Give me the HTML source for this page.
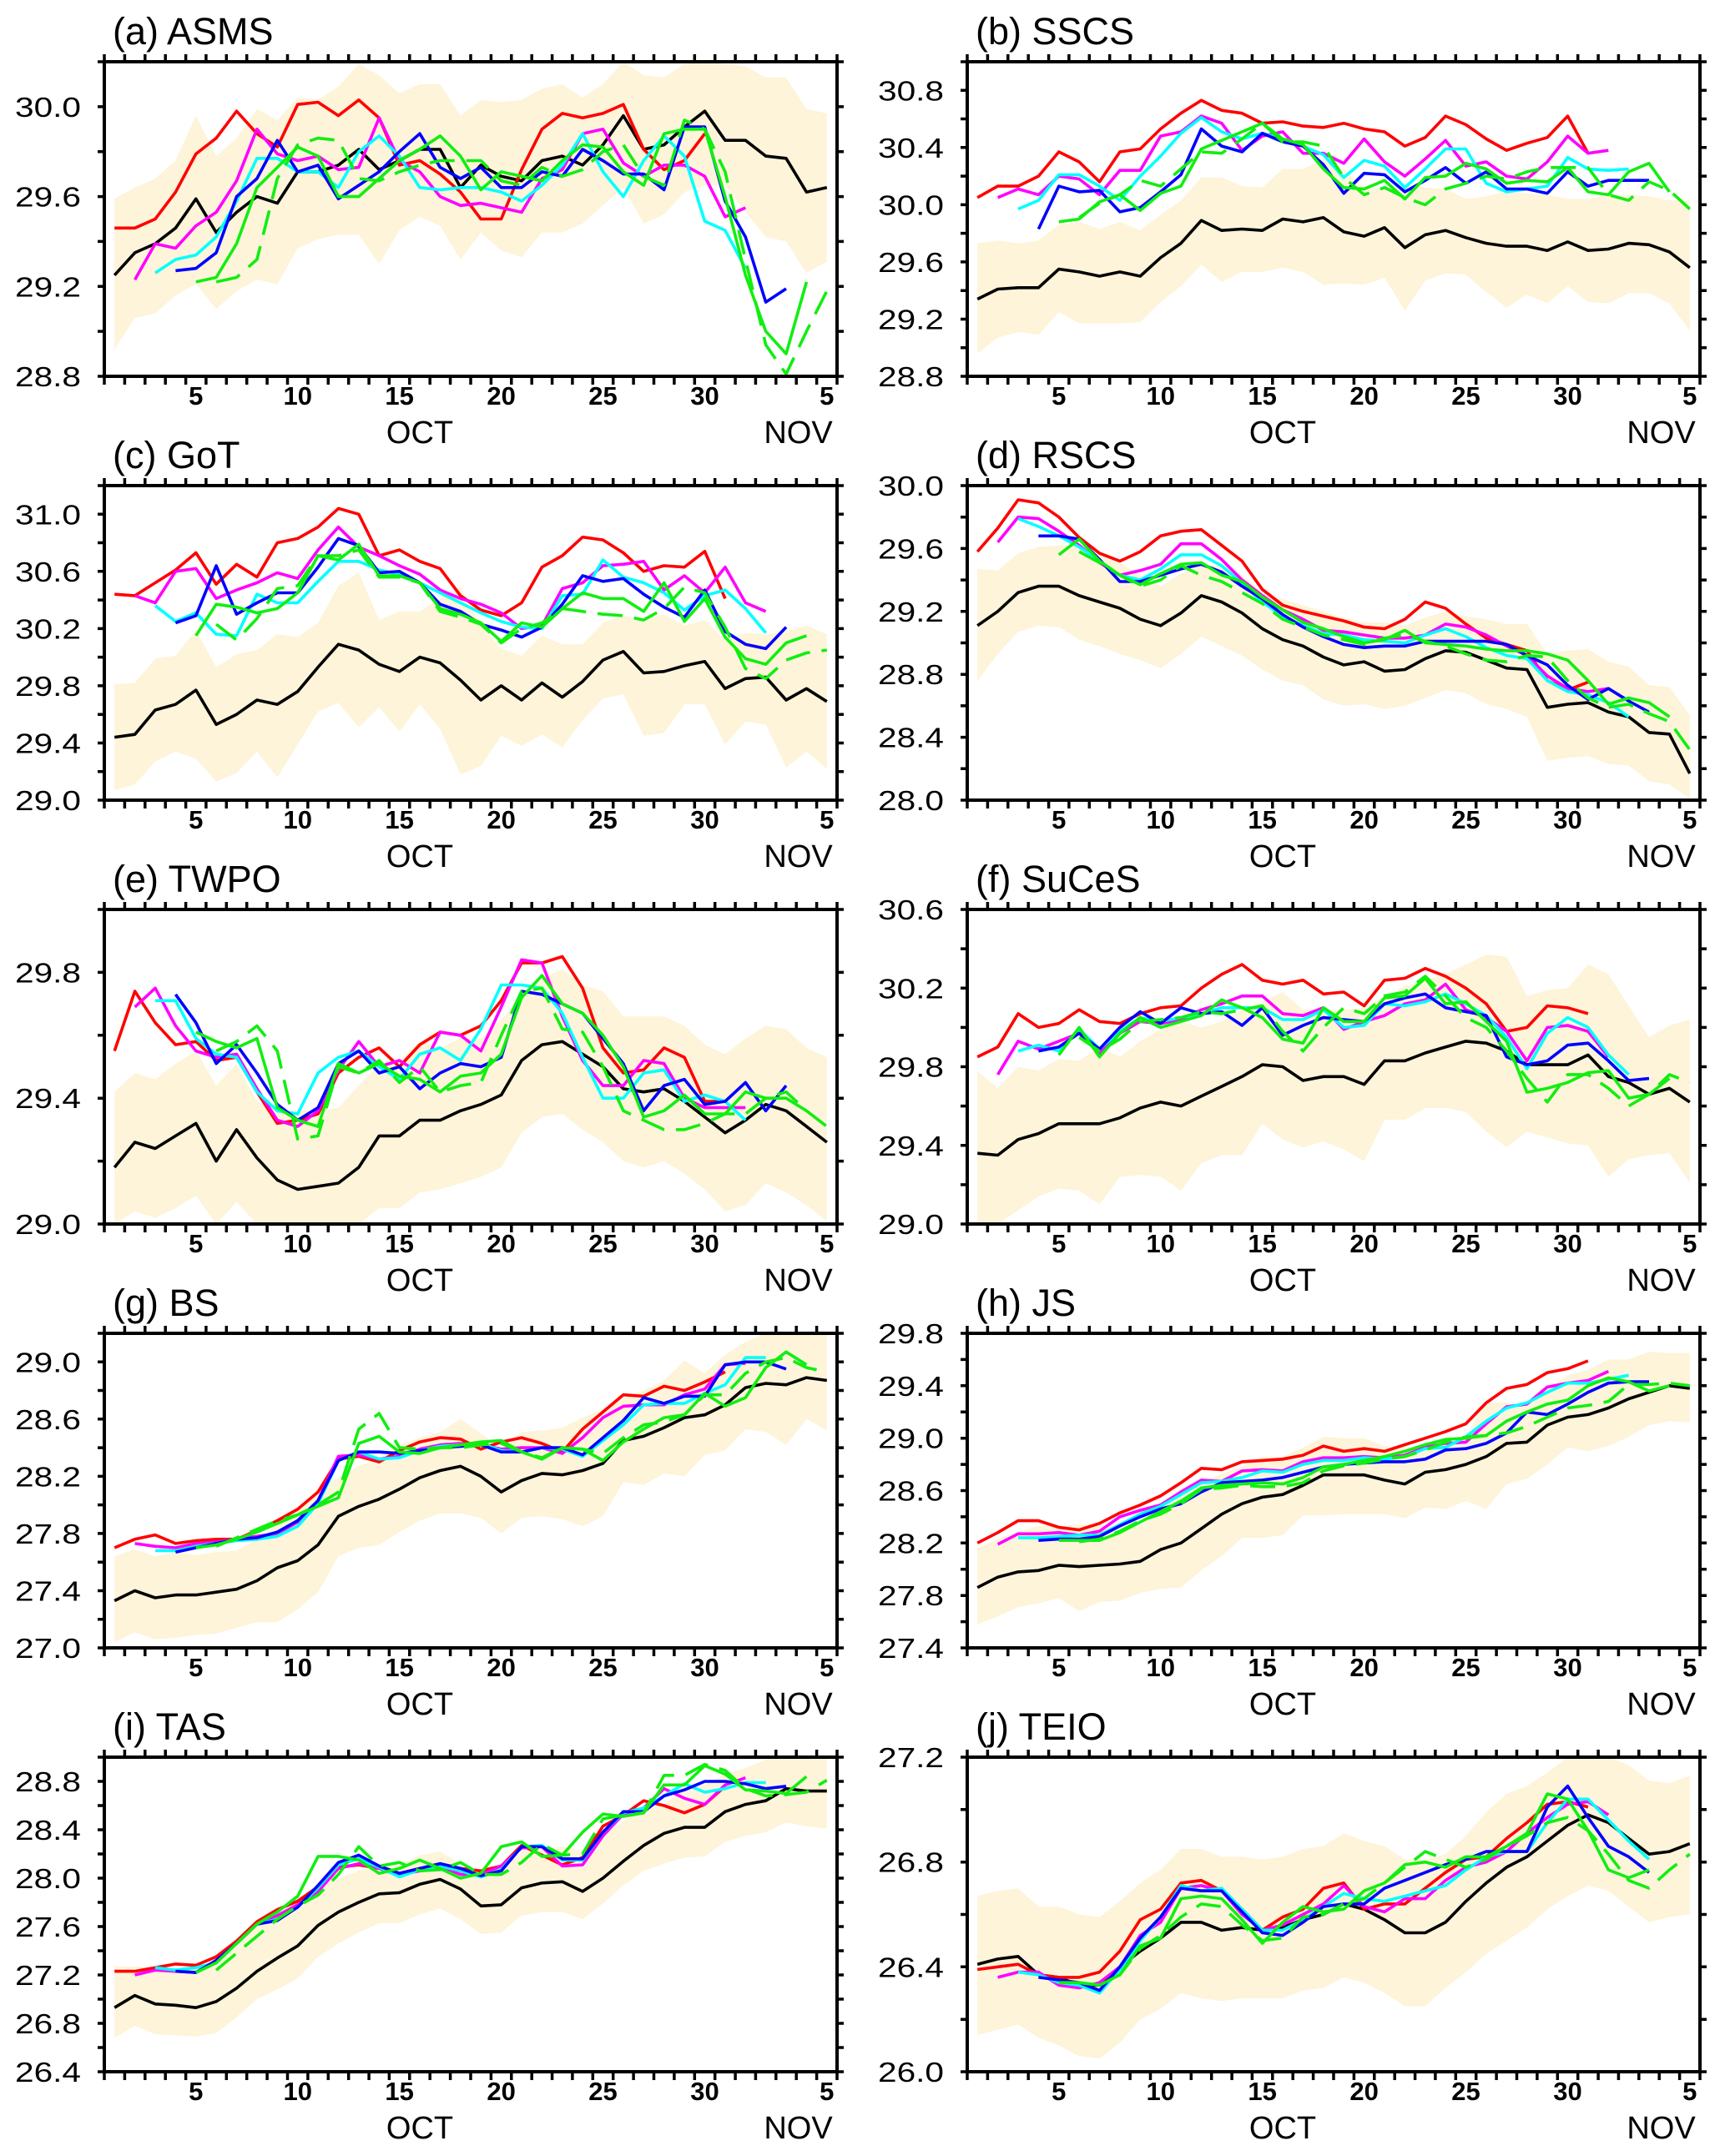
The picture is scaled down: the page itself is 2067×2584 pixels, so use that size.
<!DOCTYPE html>
<html><head><meta charset="utf-8">
<style>
html,body{margin:0;padding:0;background:#fff;}
svg{display:block;font-family:"Liberation Sans",Arial,sans-serif;}
</style></head>
<body>
<svg id="fig" width="2067" height="2584" viewBox="0 0 2067 2584" xmlns="http://www.w3.org/2000/svg"></svg>
<script>
// ---------------- DATA (days: Oct 1 = 1 ... Nov 5 = 36) ----------------
// (a) ASMS
const aBlack=[29.25,29.35,29.39,29.46,29.59,29.44,29.53,29.60,29.57,29.71,29.71,29.74,29.81,29.72,29.76,29.81,29.81,29.64,29.74,29.69,29.67,29.76,29.78,29.74,29.83,29.96,29.81,29.83,29.91,29.98,29.85,29.85,29.78,29.77,29.62,29.64];
const aHi=[29.59,29.64,29.68,29.76,29.96,29.78,29.86,29.99,29.94,30.04,30.03,30.09,30.19,30.14,30.06,30.10,30.10,29.96,30.03,30.02,30.03,30.08,30.10,30.04,30.10,30.20,30.14,30.13,30.19,30.20,30.19,30.18,30.13,30.13,29.99,29.97];
const aLo=[28.92,29.06,29.08,29.16,29.21,29.10,29.18,29.23,29.21,29.37,29.41,29.43,29.43,29.30,29.45,29.51,29.47,29.32,29.44,29.36,29.33,29.44,29.44,29.48,29.56,29.64,29.48,29.52,29.62,29.65,29.65,29.53,29.42,29.40,29.26,29.31];
const aRed=[29.46,29.46,29.50,29.62,29.79,29.86,29.98,29.88,29.82,30.01,30.02,29.96,30.03,29.95,29.74,29.76,29.70,29.62,29.50,29.50,29.72,29.90,29.97,29.95,29.97,30.01,29.81,29.72,29.76,29.88];
const aMag=[29.23,29.39,29.37,29.47,29.53,29.67,29.90,29.79,29.76,29.78,29.72,29.73,29.95,29.76,29.71,29.60,29.56,29.57,29.55,29.53,29.68,29.72,29.88,29.90,29.75,29.69,29.74,29.74,29.69,29.51,29.55];
const aCyan=[29.26,29.32,29.34,29.42,29.58,29.77,29.77,29.71,29.71,29.64,29.80,29.87,29.78,29.64,29.63,29.64,29.64,29.62,29.58,29.65,29.74,29.88,29.71,29.60,29.76,29.87,29.78,29.49,29.45,29.28];
const aBlue=[29.27,29.28,29.35,29.60,29.68,29.85,29.71,29.74,29.59,29.65,29.71,29.80,29.88,29.73,29.68,29.73,29.64,29.64,29.71,29.69,29.81,29.76,29.70,29.70,29.63,29.91,29.91,29.58,29.42,29.13,29.19];
const aGreen=[29.22,29.24,29.39,29.64,29.73,29.82,29.78,29.60,29.60,29.68,29.76,29.81,29.87,29.78,29.63,29.71,29.69,29.67,29.76,29.83,29.82,29.71,29.65,29.88,29.90,29.90,29.60,29.25,29.00,28.90,29.22];
const aDash=[29.22,29.24,29.32,29.68,29.83,29.86,29.85,29.68,29.67,29.71,29.74,29.76,29.76,29.76,29.67,29.65,29.73,29.69,29.72,29.80,29.83,29.69,29.65,29.94,29.90,29.71,29.32,28.94,28.81,29.00,29.18];
// (b) SSCS
const bBlack=[29.34,29.41,29.42,29.42,29.55,29.53,29.50,29.53,29.50,29.63,29.73,29.89,29.82,29.83,29.82,29.90,29.88,29.91,29.81,29.78,29.84,29.70,29.79,29.82,29.77,29.73,29.71,29.71,29.68,29.74,29.68,29.69,29.73,29.72,29.67,29.56];
const bHi=[29.73,29.75,29.73,29.75,29.86,29.88,29.83,29.88,29.82,29.93,30.03,30.19,30.19,30.13,30.12,30.25,30.25,30.32,30.25,30.12,30.11,30.13,30.12,30.11,30.04,30.06,30.09,30.08,30.07,30.04,30.04,30.07,30.07,30.06,30.03,30.03];
const bLo=[28.96,29.07,29.11,29.09,29.25,29.17,29.17,29.17,29.18,29.32,29.43,29.58,29.46,29.53,29.53,29.56,29.53,29.44,29.45,29.44,29.49,29.26,29.47,29.52,29.51,29.39,29.28,29.37,29.31,29.43,29.32,29.31,29.38,29.38,29.31,29.12];
const bRed=[30.05,30.13,30.13,30.20,30.37,30.30,30.16,30.37,30.39,30.53,30.64,30.73,30.66,30.64,30.57,30.58,30.55,30.54,30.57,30.53,30.51,30.41,30.47,30.62,30.56,30.46,30.38,30.43,30.47,30.62,30.36];
const bMag=[30.05,30.11,30.07,30.20,30.18,30.07,30.24,30.24,30.48,30.51,30.62,30.57,30.38,30.48,30.51,30.36,30.36,30.29,30.46,30.30,30.20,30.32,30.45,30.27,30.30,30.20,30.18,30.30,30.48,30.36,30.38];
const bCyan=[29.97,30.03,30.21,30.21,30.13,30.03,30.20,30.34,30.50,30.61,30.51,30.46,30.50,30.46,30.41,30.35,30.19,30.31,30.27,30.12,30.25,30.39,30.39,30.15,30.09,30.11,30.13,30.33,30.25,30.24,30.25];
const bBlue=[29.83,30.13,30.09,30.10,29.95,29.98,30.09,30.21,30.53,30.41,30.37,30.50,30.44,30.41,30.28,30.08,30.22,30.21,30.09,30.17,30.26,30.15,30.23,30.11,30.11,30.08,30.23,30.13,30.17,30.17,30.17];
const bGreen=[29.88,29.90,30.02,30.07,29.96,30.08,30.13,30.39,30.45,30.51,30.57,30.46,30.42,30.25,30.12,30.11,30.17,30.04,30.19,30.20,30.29,30.25,30.15,30.17,30.16,30.26,30.09,30.07,30.23,30.29,30.09];
const bDash=[29.91,30.01,30.07,30.17,30.13,30.25,30.37,30.36,30.46,30.57,30.44,30.44,30.41,30.19,30.07,30.12,30.05,30.00,30.11,30.15,30.20,30.18,30.23,30.26,30.26,30.26,30.07,30.03,30.16,30.10,29.97];
// (c) GoT
const cBlack=[29.44,29.46,29.63,29.67,29.77,29.53,29.60,29.70,29.67,29.76,29.93,30.09,30.05,29.95,29.90,30.00,29.96,29.84,29.70,29.80,29.70,29.82,29.72,29.83,29.98,30.04,29.89,29.90,29.94,29.97,29.78,29.85,29.86,29.70,29.78,29.69];
const cHi=[29.81,29.82,29.99,30.01,30.19,29.93,30.02,30.05,30.16,30.14,30.24,30.50,30.59,30.26,30.32,30.32,30.41,30.49,30.22,30.06,30.01,30.15,30.09,30.09,30.24,30.29,30.27,30.30,30.22,30.26,30.12,30.17,30.16,30.18,30.22,30.16];
const cLo=[29.07,29.11,29.27,29.34,29.29,29.13,29.19,29.34,29.16,29.39,29.62,29.68,29.51,29.65,29.48,29.67,29.50,29.18,29.24,29.45,29.38,29.46,29.37,29.56,29.71,29.74,29.45,29.47,29.67,29.67,29.39,29.55,29.53,29.23,29.34,29.22];
const cRed=[30.44,30.43,30.52,30.61,30.73,30.51,30.65,30.56,30.80,30.83,30.91,31.04,31.00,30.71,30.75,30.67,30.62,30.43,30.33,30.29,30.38,30.63,30.71,30.84,30.82,30.73,30.60,30.64,30.63,30.74,30.41];
const cMag=[30.43,30.38,30.60,30.62,30.41,30.47,30.52,30.59,30.55,30.75,30.91,30.77,30.71,30.64,30.58,30.47,30.41,30.37,30.31,30.20,30.22,30.48,30.52,30.64,30.65,30.67,30.47,30.57,30.45,30.63,30.38,30.32];
const cCyan=[30.36,30.25,30.31,30.16,30.15,30.44,30.38,30.38,30.53,30.67,30.67,30.61,30.58,30.52,30.45,30.38,30.31,30.25,30.21,30.20,30.43,30.44,30.68,30.56,30.52,30.45,30.33,30.43,30.47,30.34,30.17];
const cBlue=[30.24,30.29,30.64,30.30,30.38,30.45,30.45,30.63,30.83,30.78,30.59,30.60,30.52,30.37,30.32,30.23,30.19,30.14,30.21,30.37,30.57,30.53,30.55,30.44,30.35,30.28,30.47,30.18,30.09,30.06,30.21];
const cGreen=[30.15,30.37,30.35,30.31,30.34,30.45,30.71,30.68,30.79,30.57,30.57,30.52,30.34,30.30,30.24,30.11,30.24,30.21,30.34,30.45,30.41,30.41,30.32,30.52,30.25,30.41,30.14,29.99,29.95,30.10,30.15];
const cDash=[30.23,30.12,30.27,30.48,30.50,30.71,30.71,30.75,30.56,30.56,30.52,30.32,30.28,30.23,30.10,30.20,30.24,30.34,30.32,30.30,30.29,30.26,30.34,30.49,30.45,30.21,29.92,29.85,29.98,30.03,30.05];
// (d) RSCS
const dBlack=[29.11,29.20,29.32,29.36,29.36,29.30,29.26,29.22,29.15,29.11,29.19,29.30,29.26,29.19,29.09,29.02,28.98,28.91,28.86,28.88,28.82,28.83,28.90,28.95,28.94,28.89,28.84,28.83,28.59,28.61,28.62,28.56,28.53,28.43,28.42,28.17];
const dHi=[29.47,29.46,29.57,29.61,29.62,29.62,29.58,29.51,29.43,29.36,29.44,29.49,29.50,29.43,29.32,29.28,29.24,29.20,29.16,29.13,29.13,29.11,29.16,29.20,29.17,29.15,29.12,29.12,28.93,28.95,28.96,28.88,28.85,28.73,28.72,28.54];
const dLo=[28.76,28.93,29.07,29.11,29.10,29.02,28.98,28.93,28.89,28.84,28.93,29.04,28.98,28.92,28.83,28.76,28.73,28.64,28.60,28.61,28.58,28.60,28.65,28.70,28.68,28.61,28.58,28.53,28.25,28.27,28.28,28.23,28.22,28.12,28.10,28.01];
const dRed=[29.58,29.73,29.91,29.89,29.80,29.67,29.57,29.52,29.58,29.68,29.71,29.72,29.62,29.52,29.34,29.24,29.20,29.17,29.14,29.10,29.09,29.15,29.26,29.22,29.12,29.03,28.99,28.95,28.76,28.70,28.75];
const dMag=[29.64,29.80,29.79,29.71,29.62,29.51,29.43,29.46,29.50,29.63,29.63,29.53,29.40,29.30,29.21,29.15,29.08,29.07,29.05,29.03,29.03,29.05,29.12,29.10,29.05,28.98,28.92,28.79,28.71,28.69,28.71];
const dCyan=[29.79,29.74,29.68,29.61,29.52,29.43,29.40,29.47,29.56,29.56,29.49,29.38,29.26,29.17,29.11,29.06,29.05,29.02,29.01,29.00,29.05,29.09,29.04,28.97,28.92,28.90,28.76,28.69,28.67,28.62,28.53];
const dBlue=[29.68,29.68,29.66,29.53,29.39,29.39,29.43,29.47,29.50,29.45,29.36,29.28,29.18,29.10,29.04,28.99,28.97,28.98,28.98,29.01,29.01,29.01,29.01,28.99,28.92,28.86,28.73,28.64,28.71,28.63,28.56];
const dGreen=[29.56,29.66,29.52,29.43,29.37,29.44,29.50,29.51,29.43,29.39,29.29,29.21,29.13,29.09,29.04,29.00,29.02,29.08,29.00,28.99,28.98,28.96,28.95,28.95,28.93,28.89,28.76,28.61,28.65,28.62,28.53];
const dDash=[29.58,29.51,29.43,29.36,29.40,29.49,29.43,29.39,29.32,29.25,29.15,29.10,29.05,29.02,28.99,29.03,29.05,29.01,28.98,28.93,28.89,28.88,28.92,28.91,28.76,28.65,28.59,28.61,28.55,28.50,28.32];
// (e) TWPO
const eBlack=[29.18,29.26,29.24,29.28,29.32,29.20,29.30,29.21,29.14,29.11,29.12,29.13,29.18,29.28,29.28,29.33,29.33,29.36,29.38,29.41,29.52,29.57,29.58,29.54,29.50,29.43,29.42,29.43,29.39,29.34,29.29,29.33,29.38,29.36,29.31,29.26];
const eHi=[29.42,29.48,29.46,29.51,29.55,29.44,29.51,29.39,29.36,29.36,29.36,29.37,29.44,29.51,29.52,29.58,29.56,29.59,29.59,29.65,29.72,29.78,29.81,29.76,29.74,29.66,29.66,29.66,29.63,29.57,29.54,29.59,29.63,29.62,29.56,29.53];
const eLo=[29.00,29.04,29.02,29.05,29.09,29.00,29.07,29.00,29.00,29.00,29.00,29.00,29.00,29.05,29.05,29.10,29.11,29.13,29.15,29.18,29.29,29.34,29.35,29.30,29.26,29.20,29.18,29.20,29.16,29.11,29.04,29.06,29.13,29.10,29.06,29.01];
const eRed=[29.55,29.74,29.64,29.57,29.58,29.52,29.53,29.42,29.32,29.33,29.35,29.48,29.53,29.56,29.50,29.57,29.61,29.60,29.63,29.71,29.83,29.83,29.85,29.75,29.56,29.48,29.49,29.56,29.53,29.39,29.39];
const eMag=[29.69,29.75,29.63,29.55,29.53,29.54,29.43,29.33,29.31,29.36,29.49,29.58,29.50,29.52,29.48,29.61,29.60,29.55,29.69,29.84,29.83,29.66,29.52,29.44,29.44,29.52,29.51,29.40,29.37,29.37,29.37];
const eCyan=[29.71,29.71,29.59,29.54,29.53,29.42,29.36,29.35,29.48,29.53,29.55,29.50,29.46,29.54,29.56,29.52,29.62,29.76,29.76,29.75,29.67,29.53,29.40,29.40,29.48,29.49,29.39,29.41,29.39,29.33];
const eBlue=[29.73,29.64,29.51,29.57,29.48,29.38,29.33,29.37,29.51,29.55,29.48,29.50,29.43,29.48,29.51,29.50,29.53,29.74,29.73,29.70,29.67,29.59,29.51,29.36,29.44,29.46,29.38,29.39,29.45,29.36,29.44];
const eGreen=[29.61,29.58,29.56,29.59,29.37,29.33,29.31,29.51,29.48,29.51,29.47,29.46,29.42,29.47,29.48,29.54,29.72,29.79,29.70,29.67,29.60,29.50,29.34,29.36,29.41,29.35,29.35,29.42,29.40,29.40,29.36];
const eDash=[29.55,29.58,29.63,29.55,29.27,29.28,29.50,29.48,29.52,29.45,29.50,29.42,29.44,29.45,29.60,29.74,29.75,29.62,29.61,29.50,29.36,29.33,29.30,29.30,29.32,29.35,29.35,29.40,29.42,29.36,29.31];
// (f) SuCeS
const fBlack=[29.36,29.35,29.43,29.46,29.51,29.51,29.51,29.54,29.59,29.62,29.60,29.65,29.70,29.75,29.81,29.80,29.73,29.75,29.75,29.71,29.83,29.83,29.87,29.90,29.93,29.92,29.88,29.81,29.81,29.81,29.86,29.75,29.72,29.66,29.69,29.62];
const fHi=[29.78,29.69,29.80,29.78,29.84,29.83,29.90,29.85,29.93,29.99,30.03,30.00,30.03,30.09,30.13,30.18,30.09,30.09,30.09,30.10,30.16,30.21,30.24,30.27,30.32,30.37,30.36,30.16,30.19,30.20,30.32,30.27,30.11,29.95,30.01,30.04];
const fLo=[29.00,29.00,29.07,29.14,29.18,29.17,29.10,29.24,29.25,29.24,29.17,29.31,29.35,29.35,29.51,29.43,29.39,29.42,29.38,29.32,29.53,29.53,29.59,29.59,29.57,29.47,29.39,29.47,29.44,29.41,29.40,29.24,29.33,29.35,29.36,29.21];
const fRed=[29.85,29.90,30.07,30.00,30.02,30.09,30.03,30.02,30.07,30.10,30.11,30.20,30.27,30.32,30.24,30.22,30.24,30.17,30.18,30.11,30.24,30.25,30.30,30.26,30.20,30.12,29.98,30.00,30.11,30.10,30.07];
const fMag=[29.76,29.93,29.89,29.93,29.97,29.87,29.97,30.03,30.02,30.04,30.09,30.12,30.16,30.16,30.07,30.06,30.10,29.99,30.03,30.06,30.12,30.14,30.22,30.09,30.05,29.98,29.83,30.00,30.01,29.98,29.85];
const fCyan=[29.88,29.91,29.88,29.99,29.89,29.98,30.05,30.03,30.05,30.07,30.10,30.10,30.10,30.04,30.04,30.09,30.00,30.01,30.12,30.11,30.13,30.17,30.12,30.06,29.95,29.79,29.97,30.05,30.00,29.86,29.76];
const fBlue=[29.88,29.90,29.97,29.89,30.00,30.08,30.02,30.10,30.07,30.08,30.01,30.10,29.96,30.01,30.05,30.04,30.03,30.12,30.15,30.17,30.10,30.08,30.06,29.85,29.81,29.83,29.91,29.92,29.83,29.73,29.74];
const fGreen=[29.86,30.00,29.85,29.97,30.05,30.00,30.03,30.06,30.14,30.10,30.05,29.94,29.92,30.10,30.03,30.03,30.15,30.16,30.25,30.12,30.13,30.03,29.93,29.67,29.69,29.72,29.77,29.78,29.64,29.66,29.74];
const fDash=[29.95,29.88,29.94,30.03,30.04,30.05,30.08,30.07,30.09,30.11,29.98,29.88,30.00,30.10,30.07,30.16,30.18,30.26,30.16,30.05,30.00,29.88,29.74,29.62,29.76,29.76,29.69,29.60,29.66,29.76,29.72];
// (g) BS
const gBlack=[27.33,27.40,27.35,27.37,27.37,27.39,27.41,27.47,27.56,27.61,27.72,27.92,27.99,28.04,28.11,28.19,28.24,28.27,28.20,28.09,28.17,28.22,28.21,28.24,28.29,28.45,28.48,28.54,28.61,28.63,28.70,28.82,28.85,28.84,28.89,28.87];
const gHi=[27.64,27.69,27.64,27.67,27.65,27.67,27.68,27.76,27.86,27.96,28.12,28.19,28.27,28.32,28.42,28.47,28.51,28.60,28.50,28.40,28.51,28.52,28.54,28.61,28.67,28.75,28.80,28.87,29.01,28.92,29.05,29.14,29.20,29.20,29.20,29.20];
const gLo=[27.04,27.11,27.06,27.07,27.09,27.10,27.14,27.18,27.18,27.27,27.39,27.64,27.70,27.72,27.81,27.89,27.94,27.94,27.91,27.80,27.91,27.92,27.90,27.85,27.92,28.16,28.14,28.22,28.20,28.35,28.38,28.53,28.51,28.42,28.60,28.52];
const gRed=[27.70,27.76,27.79,27.73,27.75,27.76,27.76,27.82,27.89,27.97,28.09,28.32,28.34,28.30,28.38,28.44,28.47,28.46,28.39,28.44,28.47,28.43,28.37,28.53,28.65,28.77,28.76,28.83,28.80,28.86,28.93];
const gMag=[27.73,27.71,27.70,27.73,27.74,27.76,27.78,27.80,27.88,28.03,28.34,28.35,28.32,28.34,28.39,28.42,28.43,28.42,28.39,28.40,28.40,28.36,28.47,28.61,28.69,28.70,28.70,28.77,28.81,28.98,28.99];
const gCyan=[27.68,27.68,27.71,27.73,27.75,27.76,27.78,27.85,28.01,28.31,28.37,28.32,28.33,28.38,28.41,28.42,28.43,28.38,28.37,28.40,28.39,28.34,28.45,28.56,28.70,28.71,28.71,28.78,28.84,29.03,29.03];
const gBlue=[27.67,27.70,27.73,27.76,27.77,27.81,27.89,28.03,28.31,28.37,28.37,28.36,28.38,28.40,28.41,28.42,28.37,28.37,28.40,28.40,28.35,28.47,28.59,28.75,28.71,28.76,28.76,28.98,29.00,29.00,28.95];
const gGreen=[27.70,27.72,27.76,27.81,27.87,27.93,27.99,28.05,28.43,28.48,28.37,28.36,28.40,28.42,28.44,28.45,28.37,28.32,28.40,28.39,28.31,28.44,28.53,28.61,28.63,28.78,28.69,28.75,28.96,29.07,28.98];
const gDash=[27.71,27.77,27.83,27.89,27.93,28.00,28.09,28.53,28.64,28.40,28.39,28.40,28.40,28.42,28.43,28.37,28.33,28.40,28.39,28.36,28.47,28.56,28.58,28.63,28.77,28.77,28.92,29.00,29.03,28.96,28.93];
// (h) JS
const hBlack=[27.86,27.94,27.98,27.99,28.03,28.02,28.03,28.04,28.06,28.15,28.20,28.31,28.42,28.50,28.55,28.57,28.64,28.72,28.72,28.72,28.68,28.65,28.74,28.76,28.80,28.86,28.96,28.97,29.10,29.16,29.18,29.23,29.30,29.35,29.40,29.38];
const hHi=[28.16,28.23,28.29,28.33,28.33,28.34,28.34,28.33,28.33,28.46,28.61,28.66,28.73,28.78,28.86,28.86,28.93,29.01,29.00,29.00,28.94,28.93,28.92,28.92,29.02,29.27,29.27,29.25,29.37,29.48,29.52,29.60,29.60,29.66,29.65,29.65];
const hLo=[27.58,27.64,27.71,27.74,27.78,27.68,27.75,27.76,27.82,27.85,27.86,27.99,28.10,28.24,28.24,28.26,28.41,28.41,28.42,28.42,28.42,28.39,28.47,28.46,28.52,28.46,28.65,28.69,28.80,28.93,28.90,28.94,29.01,29.10,29.13,29.12];
const hRed=[28.20,28.28,28.37,28.37,28.32,28.30,28.35,28.43,28.49,28.56,28.66,28.77,28.76,28.82,28.83,28.84,28.87,28.94,28.90,28.92,28.90,28.95,29.00,29.05,29.11,29.27,29.38,29.41,29.50,29.53,29.59];
const hMag=[28.19,28.27,28.27,28.28,28.26,28.29,28.40,28.45,28.49,28.59,28.68,28.67,28.75,28.76,28.75,28.82,28.85,28.85,28.86,28.85,28.87,28.93,28.96,28.97,29.11,29.24,29.26,29.39,29.42,29.44,29.51];
const hCyan=[28.24,28.24,28.25,28.26,28.26,28.34,28.42,28.48,28.57,28.66,28.67,28.70,28.75,28.74,28.80,28.83,28.83,28.85,28.84,28.86,28.92,28.93,29.01,29.13,29.23,29.27,29.35,29.42,29.42,29.45,29.48];
const hBlue=[28.22,28.23,28.23,28.25,28.33,28.40,28.46,28.50,28.59,28.66,28.67,28.68,28.70,28.74,28.78,28.80,28.81,28.82,28.82,28.84,28.91,28.92,28.96,29.04,29.20,29.18,29.26,29.35,29.42,29.43,29.43];
const hGreen=[28.22,28.22,28.22,28.28,28.36,28.44,28.52,28.62,28.64,28.65,28.66,28.65,28.70,28.78,28.80,28.83,28.86,28.90,28.95,28.99,29.00,29.02,29.13,29.20,29.26,29.29,29.40,29.46,29.43,29.36,29.40];
const hDash=[28.21,28.23,28.29,28.37,28.42,28.50,28.61,28.62,28.64,28.63,28.63,28.66,28.75,28.79,28.81,28.84,28.86,28.91,28.97,29.01,29.02,29.04,29.09,29.16,29.23,29.25,29.28,29.41,29.41,29.42,29.40];
// (i) TAS
const iBlack=[26.93,27.03,26.96,26.95,26.93,26.98,27.09,27.23,27.34,27.44,27.61,27.72,27.80,27.87,27.88,27.95,27.99,27.91,27.77,27.78,27.92,27.96,27.97,27.89,28.00,28.14,28.27,28.37,28.42,28.42,28.55,28.61,28.64,28.74,28.72,28.72];
const iHi=[27.27,27.27,27.26,27.24,27.25,27.30,27.43,27.63,27.72,27.83,27.94,28.00,28.06,28.10,28.11,28.19,28.22,28.12,28.04,28.07,28.22,28.24,28.26,28.23,28.35,28.47,28.58,28.61,28.74,28.77,28.86,28.91,28.98,29.00,29.00,29.00];
const iLo=[26.68,26.78,26.71,26.70,26.69,26.72,26.85,27.00,27.08,27.17,27.35,27.46,27.55,27.63,27.63,27.70,27.75,27.66,27.54,27.55,27.69,27.72,27.72,27.66,27.79,27.94,28.06,28.12,28.17,28.18,28.30,28.35,28.38,28.46,28.43,28.41];
const iRed=[27.23,27.23,27.26,27.29,27.28,27.35,27.48,27.64,27.74,27.81,27.93,28.09,28.11,28.08,28.04,28.08,28.12,28.08,28.06,28.10,28.27,28.19,28.11,28.17,28.43,28.52,28.64,28.60,28.54,28.61,28.76];
const iMag=[27.20,27.24,27.23,27.22,27.32,27.46,27.62,27.69,27.78,27.89,28.08,28.12,28.08,28.03,28.06,28.10,28.03,28.03,28.10,28.25,28.26,28.10,28.11,28.35,28.53,28.58,28.74,28.66,28.61,28.77,28.83];
const iCyan=[27.26,27.24,27.26,27.30,27.46,27.62,27.66,27.76,27.92,28.11,28.16,28.09,28.01,28.07,28.10,28.06,28.01,28.07,28.26,28.27,28.15,28.15,28.38,28.54,28.58,28.68,28.78,28.71,28.74,28.79,28.79];
const iBlue=[27.23,27.22,27.32,27.46,27.62,27.65,27.76,27.94,28.13,28.19,28.10,28.04,28.08,28.12,28.08,28.02,28.06,28.26,28.26,28.16,28.16,28.38,28.55,28.55,28.68,28.73,28.80,28.80,28.78,28.74,28.76];
const iGreen=[27.22,27.30,27.46,27.62,27.72,27.85,28.18,28.18,28.15,28.04,28.08,28.15,28.08,28.00,28.04,28.26,28.30,28.18,28.19,28.38,28.53,28.51,28.54,28.77,28.77,28.93,28.86,28.73,28.72,28.70,28.84];
const iDash=[27.24,27.38,27.52,27.66,27.77,27.86,28.03,28.26,28.10,28.13,28.06,28.07,28.13,28.03,28.03,28.13,28.28,28.19,28.20,28.49,28.52,28.54,28.85,28.85,28.94,28.89,28.74,28.68,28.69,28.71,28.81];
// (j) TEIO
const jBlack=[26.41,26.43,26.44,26.37,26.36,26.33,26.33,26.40,26.46,26.51,26.57,26.57,26.54,26.55,26.54,26.55,26.58,26.60,26.64,26.62,26.58,26.53,26.53,26.57,26.65,26.72,26.78,26.82,26.88,26.94,26.98,26.95,26.89,26.83,26.84,26.87];
const jHi=[26.67,26.69,26.70,26.63,26.63,26.60,26.59,26.65,26.72,26.77,26.85,26.85,26.82,26.82,26.81,26.82,26.85,26.86,26.91,26.88,26.86,26.81,26.81,26.83,26.90,26.99,27.06,27.09,27.14,27.20,27.20,27.20,27.17,27.11,27.10,27.13];
const jLo=[26.14,26.16,26.18,26.13,26.10,26.06,26.05,26.11,26.20,26.24,26.30,26.28,26.27,26.28,26.28,26.28,26.31,26.32,26.36,26.34,26.30,26.25,26.25,26.32,26.38,26.45,26.50,26.55,26.62,26.67,26.71,26.69,26.63,26.57,26.59,26.60];
const jRed=[26.39,26.40,26.41,26.37,26.36,26.36,26.38,26.46,26.58,26.62,26.72,26.73,26.69,26.62,26.54,26.59,26.62,26.70,26.72,26.62,26.64,26.64,26.70,26.76,26.81,26.82,26.89,26.95,27.02,27.03,27.01];
const jMag=[26.36,26.38,26.38,26.33,26.32,26.34,26.40,26.52,26.57,26.70,26.71,26.69,26.60,26.54,26.56,26.60,26.64,26.71,26.63,26.61,26.66,26.66,26.73,26.78,26.80,26.84,26.91,26.97,27.02,27.03,26.98];
const jCyan=[26.38,26.37,26.34,26.33,26.30,26.39,26.50,26.59,26.71,26.69,26.70,26.62,26.54,26.54,26.58,26.63,26.68,26.66,26.65,26.67,26.69,26.71,26.77,26.82,26.84,26.84,26.95,27.04,27.04,26.96,26.88,26.81];
const jBlue=[26.36,26.35,26.34,26.31,26.40,26.51,26.59,26.70,26.69,26.69,26.61,26.53,26.52,26.57,26.63,26.64,26.64,26.70,26.73,26.76,26.79,26.81,26.84,26.84,26.84,27.01,27.09,26.97,26.86,26.82,26.76];
const jGreen=[26.34,26.34,26.33,26.37,26.48,26.51,26.66,26.67,26.66,26.58,26.49,26.57,26.63,26.61,26.62,26.69,26.72,26.79,26.80,26.78,26.82,26.82,26.86,26.91,27.06,27.04,26.92,26.77,26.74,26.77];
const jDash=[26.34,26.33,26.37,26.47,26.52,26.59,26.64,26.63,26.56,26.50,26.51,26.59,26.60,26.64,26.66,26.72,26.78,26.84,26.81,26.78,26.81,26.86,26.90,26.95,26.97,26.92,26.83,26.73,26.70,26.77,26.83];

const xTickDays=[5,10,15,20,25,30,36];
const xTickLabels=["5","10","15","20","25","30","5"];
const panelTitles=["(a) ASMS","(b) SSCS","(c) GoT","(d) RSCS","(e) TWPO","(f) SuCeS","(g) BS","(h) JS","(i) TAS","(j) TEIO"];
const panelRanges=[[28.8,30.2],[28.8,31.0],[29.0,31.2],[28.0,30.0],[29.0,30.0],[29.0,30.6],[27.0,29.2],[27.4,29.8],[26.4,29.0],[26.0,27.2]];
const panelData=[
 [aHi,aLo,aBlack,aRed,aMag,aCyan,aBlue,aGreen,aDash],
 [bHi,bLo,bBlack,bRed,bMag,bCyan,bBlue,bGreen,bDash],
 [cHi,cLo,cBlack,cRed,cMag,cCyan,cBlue,cGreen,cDash],
 [dHi,dLo,dBlack,dRed,dMag,dCyan,dBlue,dGreen,dDash],
 [eHi,eLo,eBlack,eRed,eMag,eCyan,eBlue,eGreen,eDash],
 [fHi,fLo,fBlack,fRed,fMag,fCyan,fBlue,fGreen,fDash],
 [gHi,gLo,gBlack,gRed,gMag,gCyan,gBlue,gGreen,gDash],
 [hHi,hLo,hBlack,hRed,hMag,hCyan,hBlue,hGreen,hDash],
 [iHi,iLo,iBlack,iRed,iMag,iCyan,iBlue,iGreen,iDash],
 [jHi,jLo,jBlack,jRed,jMag,jCyan,jBlue,jGreen,jDash]
];
const seriesNames=["red","magenta","cyan","blue","green","green-dashed"];
const seriesStart=[1,2,3,4,5,6];

// ---------------- RENDER ----------------
const NS="http://www.w3.org/2000/svg";
const svg=document.getElementById('fig');
function mk(tag,attrs,parent){const e=document.createElementNS(NS,tag);for(const k in attrs)e.setAttribute(k,attrs[k]);(parent||svg).appendChild(e);return e;}
const colX=[125,1159], W=878, H=377, top0=74, rowStep=508;
const styles=[
 {c:"#ff0000",d:null},{c:"#ff00ff",d:null},{c:"#00ffff",d:null},{c:"#0000ff",d:null},{c:"#11ee11",d:null},{c:"#11ee11",d:"30 14"}];

panelData.forEach((pd,pi)=>{
  const col=pi%2,row=Math.floor(pi/2);
  const L=colX[col],T=top0+row*rowStep,R=L+W,B=T+H;
  const [ymin,ymax]=panelRanges[pi];
  const xs=d=>L+(d-0.5)/36*W;
  const ys=v=>B-(v-ymin)/(ymax-ymin)*H;
  const g=mk('g',{});
  
  
  const cid='clip'+pi;
  const cp=mk('clipPath',{id:cid},g); mk('rect',{x:L,y:T,width:W,height:H},cp);
  const plot=mk('g',{'clip-path':'url(#'+cid+')'},g);
  const [hi,lo,blk]=pd;
  let pts=hi.map((v,i)=>xs(i+1).toFixed(1)+','+ys(v).toFixed(1));
  for(let i=lo.length-1;i>=0;i--)pts.push(xs(i+1).toFixed(1)+','+ys(lo[i]).toFixed(1));
  const band=mk('polygon',{points:pts.join(' '),fill:'#fdf4d9',stroke:'none'},plot);
  
  
  const bl=mk('polyline',{points:blk.map((v,i)=>xs(i+1).toFixed(1)+','+ys(v).toFixed(1)).join(' '),fill:'none',stroke:'#000','stroke-width':3.6,'stroke-linejoin':'round'},plot);
  
  
  for(let s=0;s<6;s++){
    const arr=pd[3+s],st=seriesStart[s];
    const p=arr.map((v,i)=>xs(st+i).toFixed(1)+','+ys(v).toFixed(1)).join(' ');
    const a={points:p,fill:'none',stroke:styles[s].c,'stroke-width':3.6,'stroke-linejoin':'round'};
    if(styles[s].d)a['stroke-dasharray']=styles[s].d;
    const ln=mk('polyline',a,plot);
    
    
  }
  const fr=mk('rect',{x:L,y:T,width:W,height:H,fill:'none',stroke:'#000','stroke-width':4},g);
  
  
  let d='';
  for(let k=0;k<=36;k++){const x=(L+k/36*W).toFixed(1);d+=`M${x} ${B}V${B+10}M${x} ${T}V${T-9}`;}
  const nT=Math.round((ymax-ymin)/0.2);
  for(let k=0;k<=nT;k++){const y=ys(ymin+k*0.2).toFixed(1);d+=`M${L-8} ${y}H${L}M${R} ${y}H${R+8}`;}
  const tk=mk('path',{d:d,stroke:'#000','stroke-width':3.5,fill:'none'},g);
  
  
  for(let k=0;k<=nT;k+=2){
    const v=ymin+k*0.2;
    const t=mk('text',{x:L-28,y:(ys(v)+12).toFixed(1),'text-anchor':'end','font-size':33,textLength:79,lengthAdjust:'spacingAndGlyphs',fill:'#000'},g);
    t.textContent=v.toFixed(1);
    
    
  }
  xTickDays.forEach((dd,k)=>{
    const t=mk('text',{x:xs(dd).toFixed(1),y:B+34,'text-anchor':'middle','font-size':31,'font-weight':'bold',fill:'#000'},g);
    t.textContent=xTickLabels[k];
    
    
  });
  const oct=mk('text',{x:xs(16).toFixed(1),y:B+80,'text-anchor':'middle','font-size':38,fill:'#000'},g);
  oct.textContent='OCT';
  
  
  const nov=mk('text',{x:(L+W*0.947).toFixed(1),y:B+80,'text-anchor':'middle','font-size':38,fill:'#000'},g);
  nov.textContent='NOV';
  
  
  const tt=mk('text',{x:L+10,y:T-21,'font-size':45,fill:'#000'},g);
  tt.textContent=panelTitles[pi];
  
  
});
</script>
</body></html>
